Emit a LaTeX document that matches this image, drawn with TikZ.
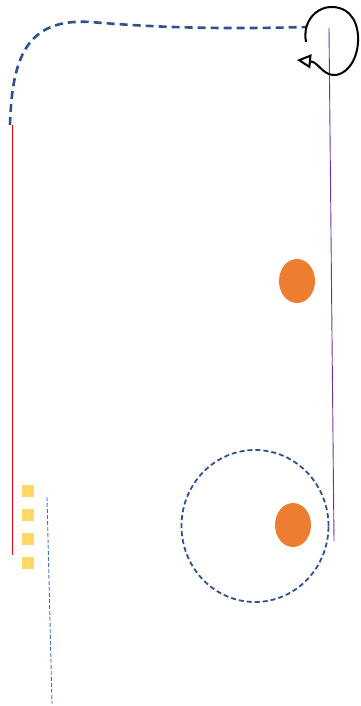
\documentclass[tikz,border=0pt]{standalone}
\usetikzlibrary{arrows.meta,shapes.geometric}
\definecolor{dblue}{HTML}{2F528F}
\definecolor{lblue}{HTML}{4472C4}
\definecolor{orng}{HTML}{ED7D31}
\definecolor{yell}{HTML}{FFD966}
\definecolor{purp}{HTML}{7030A0}
\tikzset{
  bigdash/.style={draw=dblue, line width=2.6pt, dash pattern=on 8pt off 5pt},
  thindash/.style={draw=lblue, line width=0.9pt, dash pattern=on 4pt off 2pt},
  blob/.style={ellipse, fill=orng, draw=none, minimum width=36pt, minimum height=44pt, inner sep=0pt},
  sq/.style={rectangle, fill=yell, draw=none, minimum width=12pt, minimum height=11.5pt, inner sep=0pt}
}
\begin{document}
\begin{tikzpicture}[x=1pt,y=-1pt]
\useasboundingbox (0,0) rectangle (360,706);
% top dashed curve
\coordinate (ds) at (10,125);
\coordinate (de) at (306,27);
\draw[bigdash] (ds) .. controls (12,60) and (25,18) .. (90,22) .. controls (140,26) and (200,30) .. (de);
% red line
\coordinate (r1) at (12,125);
\coordinate (r2) at (12,555);
\draw[red, line width=1pt] (r1) -- (r2);
% purple line
\coordinate (p1) at (329,28);
\coordinate (p2) at (334,541);
\draw[purp, line width=0.9pt] (p1) -- (p2);
% loop arrow
\coordinate (l1) at (306,42);
\coordinate (l2) at (297,60);
\draw[black, line width=2pt, -{Triangle[open, length=14pt, width=14pt]}]
  (l1) .. controls (302,20) and (318,6) .. (333,7)
  .. controls (352,8) and (359,25) .. (358,42)
  .. controls (357,62) and (345,76) .. (333,75)
  .. controls (322,74) and (318,62) .. (l2);
% orange blobs
\node[blob] (o1) at (297,281) {};
\node[blob] (o2) at (293,525) {};
% dashed circle
\node[draw=dblue, line width=1.8pt, dash pattern=on 5pt off 3pt, ellipse, minimum width=147pt, minimum height=152pt, inner sep=0pt] (c) at (255,526) {};
% yellow squares
\node[sq] (s1) at (28,491) {};
\node[sq] (s2) at (28,515) {};
\node[sq] (s3) at (28,539) {};
\node[sq] (s4) at (28,563) {};
% thin dashed line
\coordinate (b1) at (47,497);
\coordinate (b2) at (52,704);
\draw[thindash] (b1) -- (b2);
\end{tikzpicture}
\end{document}
